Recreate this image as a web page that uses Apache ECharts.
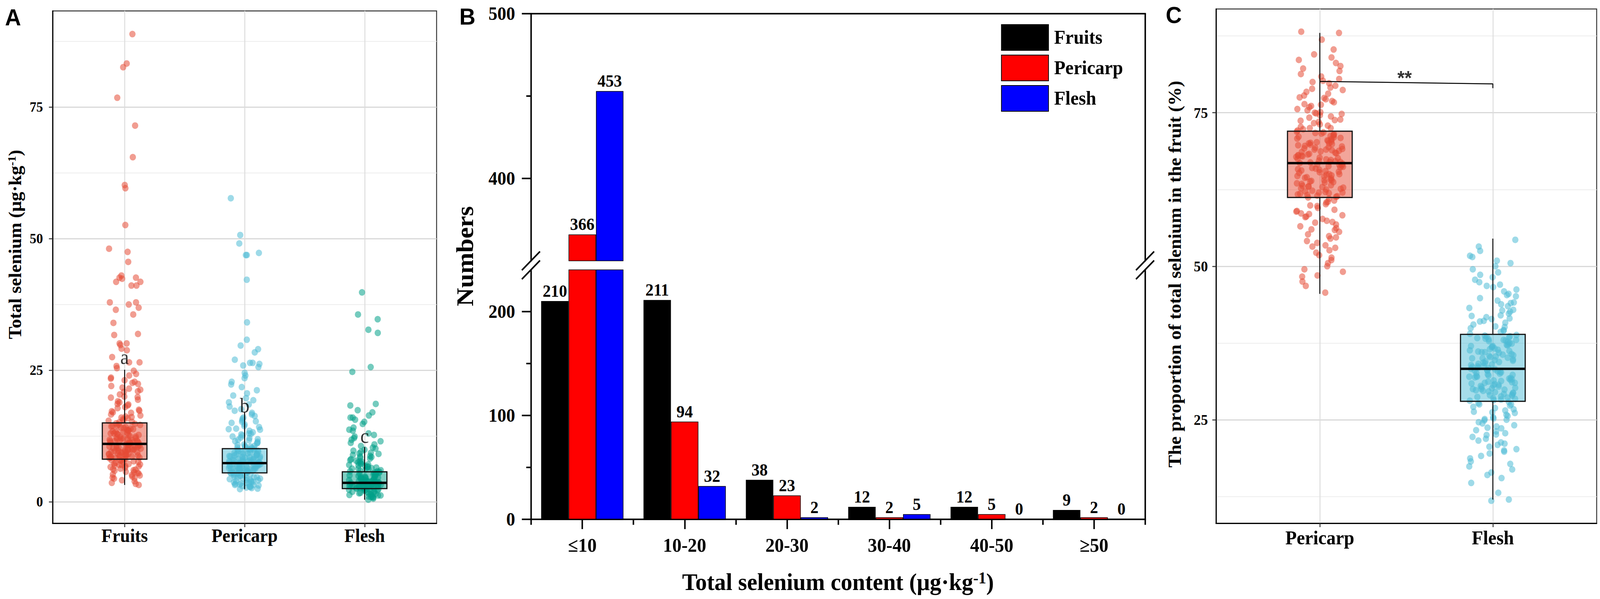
<!DOCTYPE html>
<html><head><meta charset="utf-8">
<script src="https://cdn.jsdelivr.net/npm/echarts@6/dist/echarts.min.js"></script>
<style>html,body{margin:0;padding:0;background:#fff;overflow:hidden}#c{position:absolute;left:0;top:0;width:4317px;height:1534px;transform-origin:0 0}</style>
</head><body><div id="c"></div>
<script>
// ---------------- DATA ----------------
// Panel A: total selenium (µg/kg) per sample, jittered points
const groupsA = ['Fruits', 'Pericarp', 'Flesh'];
const ticksA = [0, 25, 50, 75];
const minorA = [12.5, 37.5, 62.5, 87.5];
const fruitsSe = [88.9,83.3,82.6,76.8,71.5,65.5,60.2,59.6,52.6,48.1,47.5,45.6,43.0,42.6,42.6,42.4,41.8,41.8,41.1,41.1,37.9,37.9,37.5,36.9,36.5,35.6,34.0,31.9,31.7,30.1,30.1,29.8,29.1,28.8,27.5,26.5,26.5,25.8,25.4,
 24.9,24.3,24.0,23.6,23.1,22.8,22.6,22.0,21.7,21.3,21.0,20.9,20.4,20.0,19.8,19.4,19.1,18.9,18.5,18.3,18.0,17.8,17.5,17.3,17.0,16.9,16.6,16.4,16.2,16.0,15.9,15.7,15.5,15.4,15.2,15.1,
 14.9,14.8,14.6,14.5,14.3,14.2,14.1,13.9,13.8,13.6,13.5,13.4,13.2,13.1,13.0,12.9,12.7,12.6,12.5,12.4,12.3,12.1,12.0,11.9,11.9,11.8,11.7,11.6,11.5,11.4,11.4,11.3,11.2,11.1,11.1,11.0,
 10.9,10.8,10.8,10.7,10.6,10.5,10.5,10.4,10.3,10.2,10.1,10.1,10.0,9.9,9.8,9.8,9.7,9.6,9.5,9.4,9.4,9.3,9.2,9.1,9.0,8.9,8.9,8.8,8.7,8.6,8.5,8.4,8.4,8.3,8.2,8.1,
 8.0,7.9,7.8,7.6,7.5,7.4,7.3,7.1,7.0,6.9,6.8,6.6,6.5,6.3,6.2,6.0,5.9,5.7,5.5,5.4,5.2,5.0,4.8,4.6,4.4,4.1,3.9,3.6,3.4,3.2,
 14.7,14.0,13.3,12.8,12.2,11.7,11.2,10.6,10.0,9.6,9.1,8.6,8.3,7.7,7.2,6.7,6.1,5.6,5.1,4.5,13.7,12.0,10.9,9.9,8.8,16.1,17.2,18.6,19.9,21.5,22.4,23.4,14.4,13.0,11.5,10.2,9.3,8.7,7.9,7.0];
const pericarpSe = [57.7,50.7,49.1,47.3,46.9,46.9,42.2,34.1,30.8,29.7,29.0,28.4,27.0,26.4,26.4,26.2,25.9,25.6,24.5,24.0,23.5,22.8,22.3,21.8,21.2,20.6,20.2,19.7,19.3,18.9,18.5,18.1,17.6,17.3,
 16.9,16.6,16.3,16.0,15.8,15.5,15.2,15.0,14.7,14.4,14.2,13.9,13.7,13.5,13.2,13.0,12.8,12.6,12.4,12.2,12.1,11.9,11.7,11.5,11.4,11.2,11.1,10.9,10.8,10.6,10.5,10.4,10.3,10.2,
 10.1,10.0,9.9,9.8,9.7,9.6,9.5,9.4,9.3,9.2,9.1,9.0,8.9,8.8,8.7,8.6,8.5,8.4,8.4,8.3,8.2,8.1,8.0,8.0,7.9,7.8,7.7,7.7,7.6,7.5,7.5,7.4,7.4,
 7.3,7.2,7.2,7.1,7.0,7.0,6.9,6.8,6.8,6.7,6.6,6.6,6.5,6.4,6.4,6.3,6.2,6.2,6.1,6.0,6.0,5.9,5.9,5.8,5.7,5.7,5.6,5.6,5.5,5.5,
 5.4,5.3,5.2,5.1,5.0,4.9,4.8,4.7,4.6,4.5,4.4,4.3,4.2,4.1,4.0,3.9,3.8,3.7,3.6,3.5,3.4,3.3,3.2,3.1,3.0,2.9,2.8,2.7,2.6,2.5,2.4,
 9.9,9.4,8.9,8.5,8.1,7.8,7.6,7.3,7.1,6.9,6.7,6.5,6.3,6.1,5.8,5.6,5.3,5.0,4.7,4.4,4.1,3.8,3.5,3.2,2.9,11.8,12.9,13.8,15.3,8.6,7.0,6.4,5.9,9.2,10.6];
const fleshSe = [39.8,35.6,34.7,32.7,32.1,25.6,24.7,18.6,18.3,17.4,17.0,16.4,16.0,16.0,15.6,15.2,14.8,14.1,13.7,13.5,13.0,12.7,12.4,12.1,11.8,11.5,11.2,10.9,10.6,
 10.3,10.1,9.9,9.7,9.5,9.3,9.1,8.9,8.7,8.6,8.4,8.2,8.1,7.9,7.8,7.6,7.5,7.3,7.2,7.1,6.9,6.8,6.7,6.6,6.5,6.4,6.3,6.2,6.1,6.0,5.9,5.8,5.8,
 5.7,5.6,5.5,5.4,5.3,5.2,5.1,5.0,4.9,4.8,4.7,4.6,4.5,4.5,4.4,4.3,4.2,4.1,4.1,4.0,3.9,3.9,3.8,3.7,3.7,3.6,
 3.6,3.5,3.5,3.4,3.4,3.3,3.3,3.2,3.2,3.1,3.1,3.0,3.0,2.9,2.9,2.8,2.8,2.7,2.7,2.6,2.6,2.5,2.5,
 2.4,2.3,2.2,2.1,2.0,1.9,1.8,1.7,1.6,1.5,1.4,1.3,1.2,1.1,1.0,0.9,0.8,0.6,0.4,
 5.5,5.2,4.9,4.6,4.4,4.2,4.0,3.8,3.6,3.4,3.2,3.0,2.8,2.6,2.4,2.2,2.0,1.8,1.5,1.2,0.9,6.3,7.0,7.7,8.5,9.2,3.9,3.3,2.7,4.7];
// box stats: [lower whisker, Q1, median, Q3, upper whisker]
const boxA = [[3.2, 8.1, 11.0, 15.0, 25.1], [2.4, 5.5, 7.35, 10.1, 17.0], [0.4, 2.5, 3.6, 5.7, 10.4]];
const lettersA = ['a', 'b', 'c'];
const letterValA = [27.5, 18.3, 12.5];

// Panel B: counts per selenium class
const binsB = ['≤10', '10-20', '20-30', '30-40', '40-50', '≥50'];
const fruitsCount = [210, 211, 38, 12, 12, 9];
const pericarpCount = [366, 94, 23, 2, 5, 2];
const fleshCount = [453, 32, 2, 5, 0, 0];
const ticksBLow = [0, 100, 200];
const minorBLow = [50, 150];
const ticksBHigh = [400, 500];
const minorBHigh = [450];

// Panel C: proportion (%) of total selenium in the fruit
const groupsC = ['Pericarp', 'Flesh'];
const ticksC = [25, 50, 75];
const minorC = [12.5, 37.5, 62.5, 87.5];
const pericarpPct = [88.2,88.0,86.9,85.3,84.5,84.0,83.6,83.1,82.6,82.2,81.8,81.3,80.9,80.5,80.2,79.8,79.4,79.1,78.7,78.4,78.1,77.8,77.5,77.2,76.9,76.7,76.4,76.1,75.9,75.6,75.4,75.1,74.9,74.6,74.4,74.2,73.9,73.7,73.5,73.3,73.1,72.9,72.7,72.5,72.3,72.1,
 71.9,71.8,71.7,71.5,71.4,71.3,71.1,71.0,70.9,70.8,70.6,70.5,70.4,70.2,70.1,70.0,69.9,69.7,69.6,69.5,69.3,69.2,69.1,69.0,68.8,68.7,68.6,68.4,68.3,68.2,68.1,67.9,67.8,67.7,67.5,67.4,67.3,67.2,67.0,66.9,66.8,
 66.7,66.5,66.4,66.2,66.1,65.9,65.8,65.6,65.5,65.3,65.2,65.0,64.9,64.7,64.6,64.4,64.3,64.1,64.0,63.8,63.7,63.5,63.4,63.2,63.1,62.9,62.8,62.6,62.5,62.3,62.2,62.0,61.9,61.7,61.6,61.4,61.3,61.2,
 61.0,60.7,60.4,60.1,59.8,59.5,59.2,58.9,58.6,58.3,58.0,57.7,57.4,57.1,56.8,56.5,56.2,55.9,55.6,55.2,54.9,54.5,54.1,53.8,53.4,53.0,52.6,52.2,51.8,51.4,51.0,50.5,50.0,49.5,49.1,48.5,48.3,47.5,46.8,45.7,
 71.6,71.2,70.7,70.3,69.8,69.4,68.9,68.5,68.0,67.6,67.1,66.6,66.3,65.7,65.4,64.8,64.5,63.9,63.6,63.0,62.7,62.1,61.8,61.5,73.8,74.8,76.3,77.4,78.9,80.0,60.5,59.9,59.0,58.1,57.2,56.0,54.7,53.2,70.0,69.0,68.0,67.0,66.0,65.0,64.0,63.0,62.0,72.5,75.0,58.5];
const fleshPct = [54.3,53.2,52.5,51.7,51.5,50.9,50.5,50.0,49.5,49.0,48.6,48.2,47.8,47.4,47.0,46.6,46.2,45.9,45.5,45.1,44.8,44.4,44.1,43.8,43.5,43.2,42.9,42.6,42.3,42.0,41.7,41.4,41.1,40.8,40.5,40.2,39.9,39.6,39.3,39.0,
 38.8,38.7,38.6,38.4,38.3,38.1,38.0,37.8,37.7,37.5,37.4,37.2,37.1,36.9,36.8,36.6,36.5,36.3,36.2,36.0,35.9,35.7,35.6,35.4,35.3,35.1,35.0,34.8,34.7,34.5,34.4,34.2,34.1,33.9,33.8,33.6,33.5,33.3,
 33.2,33.1,33.0,32.8,32.7,32.6,32.5,32.3,32.2,32.1,31.9,31.8,31.7,31.6,31.4,31.3,31.2,31.0,30.9,30.8,30.7,30.5,30.4,30.3,30.1,30.0,29.9,29.8,29.6,29.5,29.4,29.2,29.1,29.0,28.9,28.7,28.6,28.5,28.3,28.2,28.1,
 27.9,27.7,27.5,27.3,27.1,26.9,26.7,26.5,26.3,26.1,25.8,25.6,25.4,25.1,24.9,24.6,24.4,24.1,23.9,23.6,23.3,23.1,22.8,22.5,22.2,21.9,21.6,21.3,20.9,20.6,20.2,19.8,19.5,19.1,18.7,18.2,17.8,17.4,16.9,16.4,16.0,15.5,14.7,13.1,12.0,11.8,
 28.4,28.8,29.3,29.7,30.2,30.6,31.1,31.5,32.0,32.4,32.9,33.4,33.7,34.3,34.6,35.2,35.5,36.1,36.4,37.0,37.3,37.9,38.2,38.5,26.2,25.2,23.7,22.6,21.1,20.0,39.5,40.1,41.0,41.9,42.8,44.0,45.3,46.8,30.0,31.0,32.0,33.0,34.0,35.0,36.0,37.0,38.0,27.5,25.0,41.5];
const boxC = [[45.5, 61.2, 66.8, 72.0, 88.0], [12.0, 28.0, 33.3, 38.9, 54.5]];
const bracketC = [[1, 80.1], [2, 79.7], [2, 79.0]];
const signifC = [[1.49, 80.7]];

// ---------------- CHART ----------------
const SERIF = 'Liberation Serif', SANS = 'Liberation Sans';
const el = document.getElementById('c');
const vw = window.innerWidth || 4317, vh = window.innerHeight || 1534;
el.style.transform = 'scale(' + (vw / 4317) + ',' + (vh / 1534) + ')';
const chart = echarts.init(el, null, {renderer: 'svg', width: 4317, height: 1534});

const ptCol = {Fruits: 'rgba(230,75,53,0.68)', Pericarp: 'rgba(77,187,213,0.68)', Flesh: 'rgba(0,160,135,0.68)'};
const boxFill = {Fruits: 'rgba(230,75,53,0.5)', Pericarp: 'rgba(77,187,213,0.5)', Flesh: 'rgba(0,160,135,0.5)'};
const cPtCol = ['rgba(230,75,53,0.68)', 'rgba(77,187,213,0.68)'];
const cFill = ['rgba(230,75,53,0.5)', 'rgba(77,187,213,0.5)'];

// deterministic (hash-based) horizontal jitter, only a visual spread around the category
function jitter(i, seed, w) {
  const s = Math.sin(i * 12.9898 + seed * 78.233) * 43758.5453;
  return ((s - Math.floor(s)) - 0.5) * 2 * w;
}
function pts(vals, pos, w, seed) { return vals.map((v, i) => [pos + jitter(i + 1, seed, w), v]); }

function boxItem(halfW, fills, part) {
  return function (params, api) {
    const x = api.value(0);
    const lo = api.coord([x, api.value(1)]), q1 = api.coord([x, api.value(2)]),
          md = api.coord([x, api.value(3)]), q3 = api.coord([x, api.value(4)]), hi = api.coord([x, api.value(5)]);
    const l = api.coord([x - halfW, api.value(3)])[0], r = api.coord([x + halfW, api.value(3)])[0];
    const rs = {x: l, y: q3[1], width: r - l, height: q1[1] - q3[1]};
    if (part === 'fill') return {type: 'rect', shape: rs, style: {fill: fills[params.dataIndex]}};
    return {type: 'group', children: [
      {type: 'line', shape: {x1: hi[0], y1: hi[1], x2: q3[0], y2: q3[1]}, style: {stroke: '#000', lineWidth: 2.5}},
      {type: 'line', shape: {x1: q1[0], y1: q1[1], x2: lo[0], y2: lo[1]}, style: {stroke: '#000', lineWidth: 2.5}},
      {type: 'rect', shape: rs, style: {fill: null, stroke: '#111', lineWidth: 3}},
      {type: 'line', shape: {x1: l, y1: md[1], x2: r, y2: md[1]}, style: {stroke: '#000', lineWidth: 6}}
    ]};
  };
}

const gridMajor = {show: true, lineStyle: {color: '#D9D9D9', width: 3}};
const gridMinor = {show: true, lineStyle: {color: '#EDEDED', width: 2}};
const blackLine = w => ({show: true, onZero: false, lineStyle: {color: '#000', width: w}});
const lbl = (size, extra) => Object.assign({color: '#000', fontFamily: SERIF, fontWeight: 'bold', fontSize: size}, extra || {});

const xAxis = [
  {type: 'value', gridIndex: 0, min: 0.4, max: 3.6, axisLine: blackLine(3),
   axisTick: {show: true, length: 10, customValues: [1, 2, 3], lineStyle: {color: '#333', width: 2.5}},
   axisLabel: lbl(48, {customValues: [1, 2, 3], margin: 8, formatter: v => groupsA[Math.round(v) - 1]}),
   splitLine: {show: true, lineStyle: {color: '#DCDCDC', width: 2.5}}},
  {type: 'category', gridIndex: 1, data: binsB, position: 'top', axisLine: blackLine(4),
   axisTick: {show: false}, axisLabel: {show: false}, splitLine: {show: false}},
  {type: 'category', gridIndex: 2, data: binsB, position: 'bottom', axisLine: blackLine(4),
   axisTick: {show: true, alignWithLabel: true, interval: 0, length: 25, lineStyle: {color: '#000', width: 4}},
   axisLabel: lbl(50, {margin: 42, interval: 0}), splitLine: {show: false}},
  {type: 'category', gridIndex: 2, data: binsB, position: 'bottom', axisLine: {show: false},
   axisTick: {show: true, alignWithLabel: false, interval: 0, length: 14, lineStyle: {color: '#000', width: 4}},
   axisLabel: {show: false}, splitLine: {show: false}},
  {type: 'value', gridIndex: 3, min: 0.4, max: 2.6, axisLine: blackLine(3),
   axisTick: {show: true, length: 10, customValues: [1, 2], lineStyle: {color: '#333', width: 2.5}},
   axisLabel: lbl(50, {customValues: [1, 2], margin: 13, formatter: v => groupsC[Math.round(v) - 1]}),
   splitLine: {show: true, lineStyle: {color: '#DCDCDC', width: 2.5}}}
];

const yAxis = [
  {type: 'value', gridIndex: 0, min: -4.08, max: 93.3, position: 'left', axisLine: blackLine(3),
   axisTick: {show: true, length: 10, customValues: ticksA, lineStyle: {color: '#333', width: 2.5}},
   axisLabel: lbl(36, {customValues: ticksA, margin: 26}), splitLine: gridMajor},
  {type: 'value', gridIndex: 0, min: -4.08, max: 93.3, position: 'left', axisLine: {show: false},
   axisTick: {show: false, customValues: minorA}, axisLabel: {show: false}, splitLine: gridMinor},
  {type: 'value', gridIndex: 1, min: 350, max: 500, position: 'left', axisLine: blackLine(4),
   axisTick: {show: true, length: 25, customValues: ticksBHigh, lineStyle: {color: '#000', width: 4}},
   axisLabel: lbl(48, {customValues: ticksBHigh, margin: 43}), splitLine: {show: false}},
  {type: 'value', gridIndex: 1, min: 350, max: 500, position: 'left', axisLine: {show: false},
   axisTick: {show: true, length: 13, customValues: minorBHigh, lineStyle: {color: '#000', width: 4}},
   axisLabel: {show: false}, splitLine: {show: false}},
  {type: 'value', gridIndex: 1, min: 350, max: 500, position: 'right', axisLine: blackLine(4),
   axisTick: {show: false}, axisLabel: {show: false}, splitLine: {show: false}},
  {type: 'value', gridIndex: 2, min: 0, max: 240, position: 'left', axisLine: blackLine(4),
   axisTick: {show: true, length: 25, customValues: ticksBLow, lineStyle: {color: '#000', width: 4}},
   axisLabel: lbl(48, {customValues: ticksBLow, margin: 43}), splitLine: {show: false}},
  {type: 'value', gridIndex: 2, min: 0, max: 240, position: 'left', axisLine: {show: false},
   axisTick: {show: true, length: 13, customValues: minorBLow, lineStyle: {color: '#000', width: 4}},
   axisLabel: {show: false}, splitLine: {show: false}},
  {type: 'value', gridIndex: 2, min: 0, max: 240, position: 'right', axisLine: blackLine(4),
   axisTick: {show: false}, axisLabel: {show: false}, splitLine: {show: false}},
  {type: 'value', gridIndex: 3, min: 8.14, max: 91.9, position: 'left', axisLine: blackLine(3),
   axisTick: {show: true, length: 10, customValues: ticksC, lineStyle: {color: '#333', width: 2.5}},
   axisLabel: lbl(38, {customValues: ticksC, margin: 22}), splitLine: gridMajor},
  {type: 'value', gridIndex: 3, min: 8.14, max: 91.9, position: 'left', axisLine: {show: false},
   axisTick: {show: false, customValues: minorC}, axisLabel: {show: false}, splitLine: gridMinor}
];

const series = [];
// ---- Panel A
series.push({type: 'custom', name: 'A-box-fill', xAxisIndex: 0, yAxisIndex: 0, z: 1,
  renderItem: boxItem(0.186, groupsA.map(g => boxFill[g]), 'fill'),
  encode: {x: 0, y: [1, 2, 3, 4, 5]}, data: boxA.map((b, i) => [i + 1].concat(b))});
[fruitsSe, pericarpSe, fleshSe].forEach((vals, gi) => {
  series.push({type: 'scatter', name: 'A-' + groupsA[gi], xAxisIndex: 0, yAxisIndex: 0, z: 2,
    symbolSize: 17, itemStyle: {color: ptCol[groupsA[gi]]}, data: pts(vals, gi + 1, 0.135, gi + 1)});
});
series.push({type: 'custom', name: 'A-box-line', xAxisIndex: 0, yAxisIndex: 0, z: 3,
  renderItem: boxItem(0.186, null, 'line'),
  encode: {x: 0, y: [1, 2, 3, 4, 5]}, data: boxA.map((b, i) => [i + 1].concat(b))});
series.push({type: 'scatter', name: 'A-letters', xAxisIndex: 0, yAxisIndex: 0, z: 4, symbolSize: 1,
  itemStyle: {color: 'rgba(0,0,0,0)'},
  label: {show: true, position: 'inside', formatter: p => lettersA[p.dataIndex], color: '#000', fontFamily: SERIF, fontSize: 52},
  data: letterValA.map((v, i) => [i + 1, v])});

// ---- Panel B
const bColors = ['#000000', '#FF0000', '#0000FF'];
const bNames = ['Fruits', 'Pericarp', 'Flesh'];
[fruitsCount, pericarpCount, fleshCount].forEach((vals, si) => {
  const common = {type: 'bar', name: bNames[si], barWidth: 74, barGap: '0%', clip: true,
    itemStyle: {color: bColors[si], borderColor: '#000', borderWidth: 1.5}, data: vals};
  series.push(Object.assign({}, common, {xAxisIndex: 1, yAxisIndex: 2,
    label: {show: true, position: 'top', distance: 4, color: '#000', fontFamily: SERIF, fontWeight: 'bold', fontSize: 44,
      formatter: p => (p.value >= 350 ? String(p.value) : '')}}));
  series.push(Object.assign({}, common, {xAxisIndex: 2, yAxisIndex: 5,
    label: {show: true, position: 'top', distance: 4, color: '#000', fontFamily: SERIF, fontWeight: 'bold', fontSize: 44,
      formatter: p => (p.value <= 240 ? String(p.value) : '')}}));
});

// ---- Panel C
series.push({type: 'custom', name: 'C-box-fill', xAxisIndex: 4, yAxisIndex: 8, z: 1,
  renderItem: boxItem(0.187, cFill, 'fill'),
  encode: {x: 0, y: [1, 2, 3, 4, 5]}, data: boxC.map((b, i) => [i + 1].concat(b))});
[pericarpPct, fleshPct].forEach((vals, gi) => {
  series.push({type: 'scatter', name: 'C-' + groupsC[gi], xAxisIndex: 4, yAxisIndex: 8, z: 2,
    symbolSize: 17, itemStyle: {color: cPtCol[gi]}, data: pts(vals, gi + 1, 0.137, gi + 7)});
});
series.push({type: 'custom', name: 'C-box-line', xAxisIndex: 4, yAxisIndex: 8, z: 3,
  renderItem: boxItem(0.187, null, 'line'),
  encode: {x: 0, y: [1, 2, 3, 4, 5]}, data: boxC.map((b, i) => [i + 1].concat(b))});
series.push({type: 'line', name: 'C-bracket', xAxisIndex: 4, yAxisIndex: 8, z: 4, symbol: 'none',
  lineStyle: {color: '#000', width: 2.5}, data: bracketC});
series.push({type: 'scatter', name: 'C-signif', xAxisIndex: 4, yAxisIndex: 8, z: 4, symbolSize: 1,
  itemStyle: {color: 'rgba(0,0,0,0)'},
  label: {show: true, position: 'inside', formatter: '**', color: '#000', fontFamily: SANS, fontWeight: 'bold', fontSize: 50},
  data: signifC});

// ---- decorations (titles, axis titles, break marks)
function txt(x, y, text, font, rot, rich) {
  return {type: 'text', x: x, y: y, rotation: rot || 0, z: 100,
    style: Object.assign({text: text, fill: '#000', align: 'center', verticalAlign: 'middle',
      textAlign: 'center', textVerticalAlign: 'middle'}, font, rich ? {rich: rich} : {})};
}
function brk(x, y1, y2) {
  return [
    {type: 'line', z: 100, shape: {x1: x - 25, y1: y1 + 24, x2: x + 24, y2: y1 - 24}, style: {stroke: '#000', lineWidth: 4}},
    {type: 'line', z: 100, shape: {x1: x - 25, y1: y2 + 24, x2: x + 24, y2: y2 - 24}, style: {stroke: '#000', lineWidth: 4}}
  ];
}
const serifB = s => ({fontFamily: SERIF, fontWeight: 'bold', fontSize: s});
const graphic = [
  txt(35, 44, 'A', {fontFamily: SANS, fontWeight: 'bold', fontSize: 60}),
  txt(1261, 42, 'B', {fontFamily: SANS, fontWeight: 'bold', fontSize: 60}),
  txt(3167, 38, 'C', {fontFamily: SANS, fontWeight: 'bold', fontSize: 60}),
  txt(41, 626, '{m|Total selenium (μg·kg}{s|-1}{m|)}', serifB(48), Math.PI / 2,
    {m: serifB(48), s: Object.assign(serifB(30), {verticalAlign: 'top'})}),
  txt(1255, 656, 'Numbers', serifB(65), Math.PI / 2),
  txt(2261, 1490, '{m|Total selenium content (μg·kg}{s|-1}{m|)}', serifB(62), 0,
    {m: serifB(62), s: Object.assign(serifB(42), {verticalAlign: 'top'})}),
  txt(3170, 702, 'The proportion of total selenium in the fruit (%)', serifB(48), Math.PI / 2)
].concat(brk(1433, 668, 691)).concat(brk(3090, 668, 691));

chart.setOption({
  animation: false,
  backgroundColor: '#fff',
  textStyle: {fontFamily: SERIF},
  grid: [
    {left: 142, top: 28, width: 1036, height: 1312, show: true, borderColor: '#333', borderWidth: 2.5, backgroundColor: 'transparent', containLabel: false, outerBoundsMode: 'none'},
    {left: 1433, top: 35, width: 1657, height: 633, show: false, containLabel: false, outerBoundsMode: 'none'},
    {left: 1433, top: 691, width: 1657, height: 639, show: false, containLabel: false, outerBoundsMode: 'none'},
    {left: 3281, top: 23, width: 1027, height: 1317, show: true, borderColor: '#333', borderWidth: 2.5, backgroundColor: 'transparent', containLabel: false, outerBoundsMode: 'none'}
  ],
  legend: {data: bNames, orient: 'vertical', left: 2701, top: 62, padding: 0, itemWidth: 127, itemHeight: 66, itemGap: 10,
    icon: 'rect', selectedMode: false,
    textStyle: {color: '#000', fontFamily: SERIF, fontWeight: 'bold', fontSize: 50, padding: [0, 0, 0, 10]}},
  xAxis: xAxis,
  yAxis: yAxis,
  series: series,
  graphic: graphic
});
</script></body></html>
